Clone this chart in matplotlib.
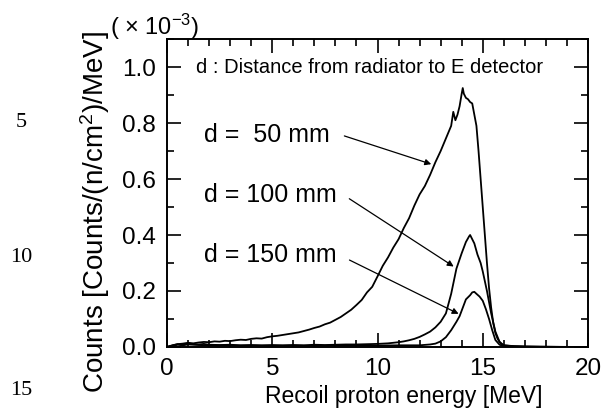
import matplotlib
matplotlib.use("Agg")
import matplotlib.pyplot as plt
from matplotlib.ticker import MultipleLocator

plt.rcParams['font.family'] = ['Liberation Sans', 'DejaVu Sans']
plt.rcParams['mathtext.fontset'] = 'custom'
plt.rcParams['mathtext.rm'] = 'Liberation Sans'
plt.rcParams['mathtext.it'] = 'Liberation Sans'

# d = 50 mm
e_50 = [0.0, 0.25, 0.5, 0.75, 1.0, 1.25, 1.5, 1.75, 2.0, 2.25, 2.5, 2.75, 3.0, 3.25, 3.5, 3.75,
        4.0, 4.25, 4.5, 4.75, 5.0, 5.25, 5.5, 5.75, 6.0, 6.25, 6.5, 6.75, 7.0, 7.25, 7.5, 7.75,
        8.0, 8.25, 8.5, 8.75, 9.0, 9.25, 9.5, 9.75, 10.0, 10.25, 10.5, 10.75, 11.0, 11.25, 11.5,
        11.75, 12.0, 12.25, 12.5, 12.75, 13.0, 13.25, 13.5, 13.6, 13.7, 13.8, 13.9, 14.0, 14.05,
        14.1, 14.2, 14.3, 14.4, 14.5, 14.6, 14.7, 14.8, 14.9, 15.0, 15.1, 15.2, 15.3, 15.4, 15.5,
        15.6, 15.7, 15.8, 15.9, 16.0, 16.5, 17.0, 18.0, 19.0, 20.0]
c_50 = [0.0, 0.005, 0.010, 0.012, 0.015, 0.013, 0.016, 0.018, 0.017, 0.020, 0.019, 0.022, 0.021,
        0.024, 0.026, 0.025, 0.029, 0.031, 0.030, 0.035, 0.038, 0.040, 0.043, 0.046, 0.049, 0.052,
        0.057, 0.062, 0.068, 0.073, 0.081, 0.087, 0.097, 0.107, 0.120, 0.133, 0.150, 0.168, 0.195,
        0.215, 0.252, 0.290, 0.320, 0.355, 0.385, 0.425, 0.460, 0.505, 0.545, 0.575, 0.615, 0.660,
        0.700, 0.745, 0.790, 0.840, 0.810, 0.830, 0.860, 0.905, 0.925, 0.905, 0.890, 0.885, 0.875,
        0.870, 0.830, 0.790, 0.700, 0.600, 0.500, 0.400, 0.300, 0.210, 0.140, 0.085, 0.050, 0.030,
        0.018, 0.010, 0.006, 0.003, 0.002, 0.001, 0.0, 0.0]

# d = 100 mm
e_100 = [0.0, 0.25, 0.5, 0.75, 1.0, 1.25, 1.5, 1.75, 2.0, 2.5, 3.0, 3.5, 4.0, 4.5, 5.0, 5.5, 6.0,
         6.5, 7.0, 7.5, 8.0, 8.5, 9.0, 9.5, 10.0, 10.5, 11.0, 11.25, 11.5, 11.75, 12.0, 12.25,
         12.5, 12.75, 13.0, 13.25, 13.5, 13.75, 14.0, 14.2, 14.35, 14.4, 14.5, 14.6, 14.75, 14.9,
         15.0, 15.2, 15.4, 15.6, 15.8, 16.0, 16.5, 17.0, 18.0, 20.0]
c_100 = [0.0, 0.006, 0.010, 0.008, 0.012, 0.010, 0.009, 0.011, 0.008, 0.007, 0.008, 0.006, 0.007,
         0.006, 0.007, 0.006, 0.007, 0.006, 0.008, 0.007, 0.008, 0.009, 0.009, 0.010, 0.011, 0.013,
         0.017, 0.020, 0.024, 0.029, 0.036, 0.045, 0.055, 0.070, 0.090, 0.120, 0.190, 0.280, 0.335,
         0.375, 0.395, 0.400, 0.385, 0.370, 0.330, 0.300, 0.270, 0.200, 0.120, 0.055, 0.018, 0.006,
         0.002, 0.001, 0.0, 0.0]

# d = 150 mm
e_150 = [0.0, 0.25, 0.5, 0.75, 1.0, 1.5, 2.0, 3.0, 4.0, 5.0, 6.0, 7.0, 8.0, 9.0, 10.0, 11.0, 12.0,
         12.5, 12.75, 13.0, 13.25, 13.5, 13.75, 13.9, 14.0, 14.2, 14.4, 14.5, 14.6, 14.7, 14.85,
         15.0, 15.15, 15.3, 15.45, 15.6, 15.8, 16.0, 17.0, 20.0]
c_150 = [0.0, 0.004, 0.008, 0.006, 0.009, 0.007, 0.006, 0.005, 0.005, 0.004, 0.005, 0.004, 0.005,
         0.005, 0.005, 0.006, 0.006, 0.009, 0.012, 0.020, 0.035, 0.060, 0.090, 0.110, 0.130, 0.170,
         0.185, 0.195, 0.197, 0.190, 0.180, 0.165, 0.135, 0.100, 0.060, 0.025, 0.008, 0.003, 0.001,
         0.0]

labels = ["d =  50 mm", "d = 100 mm", "d = 150 mm"]
label_xy = [(1.75, 0.757), (1.75, 0.543), (1.75, 0.329)]
arrow_from = [(8.3, 0.757), (8.55, 0.535), (8.55, 0.315)]
arrow_to = [(12.68, 0.65), (13.73, 0.282), (13.97, 0.114)]

fig = plt.figure(figsize=(6.04, 4.15), dpi=100)
ax = fig.add_axes([0.2765, 0.1639, 0.697, 0.742])

for e, c in [(e_50, c_50), (e_100, c_100), (e_150, c_150)]:
  ax.plot(e, c, color="black", lw=1.3)

ax.set_xlim(0, 20)
ax.set_ylim(0, 1.1)
ax.xaxis.set_major_locator(MultipleLocator(5))
ax.xaxis.set_minor_locator(MultipleLocator(1))
ax.yaxis.set_major_locator(MultipleLocator(0.2))
ax.yaxis.set_minor_locator(MultipleLocator(0.1))
ax.tick_params(which="both", direction="in", top=True, right=True, width=1.2, labelsize=17.5)
ax.tick_params(which="major", length=10, pad=8)
ax.tick_params(which="minor", length=5)
ax.set_yticks([0.0, 0.2, 0.4, 0.6, 0.8, 1.0])
ax.set_yticklabels(["0.0", "0.2", "0.4", "0.6", "0.8", "1.0"])
for s in ax.spines.values():
  s.set_linewidth(1.4)

ax.set_xlabel("Recoil proton energy [MeV]", fontsize=16.5, va="center")
ax.xaxis.set_label_coords(0.563, -0.162)
ax.set_ylabel("Counts [Counts/(n/cm$^2$)/MeV]", fontsize=20, va="center")
ax.yaxis.set_label_coords(-0.171, 0.438)

ax.text(1.38, 1.0, "d : Distance from radiator to E detector", fontsize=14.5, va="center")
for lab, xy, a, b in zip(labels, label_xy, arrow_from, arrow_to):
  ax.text(xy[0], xy[1], lab, fontsize=18, va="center")
  ax.annotate("", xy=b, xytext=a,
              arrowprops=dict(arrowstyle="-|>", color="black", lw=0.9, mutation_scale=9))

fig.text(0.182, 0.935, "( $\\times$ 10$^{-3}$)", fontsize=17, va="center")

# margin line numbers from the source page
for num, y in [("5", 0.705), ("10", 0.38), ("15", 0.06)]:
  fig.text(0.035, y, num, fontsize=16, family="Liberation Serif", va="center", ha="center")

fig.savefig("out.png", dpi=100)
